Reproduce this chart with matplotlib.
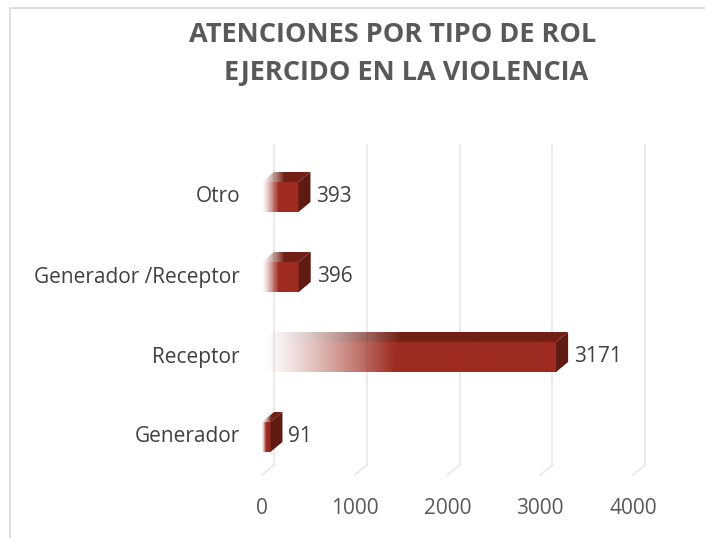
import numpy as np
import matplotlib
matplotlib.use("Agg")
import matplotlib.pyplot as plt
from matplotlib.patches import Polygon, Rectangle

categorias = ["Generador", "Receptor", "Generador /Receptor", "Otro"]
valores = [91, 3171, 396, 393]
ticks = [0, 1000, 2000, 3000, 4000]
titulo = ["ATENCIONES POR TIPO DE ROL", "EJERCIDO EN LA VIOLENCIA"]

plt.rcParams["font.family"] = ["Open Sans", "DejaVu Sans"]

W, H = 705, 538
fig = plt.figure(figsize=(W / 100, H / 100), dpi=100)

# ejes: x=0 en px 262, x=4000 en px 633; y de px 475 (abajo) a 145 (arriba)
x0, x1 = 262, 633
yb, yt = 475, 145
ax = fig.add_axes([x0 / W, 1 - yb / H, (x1 - x0) / W, (yb - yt) / H])
ax.axis("off")

px_x = 4000 / (x1 - x0)      # unidades por pixel en x
px_y = 4.125 / (yb - yt)     # unidades por pixel en y
dx = 12 * px_x               # profundidad 3D
dy = 10 * px_y
hh = 15 * px_y               # media altura de barra

# rejilla (plano de fondo + pie inclinado)
for t in ticks:
    ax.plot([t + dx, t + dx], [-0.475 + dy, 3.65], color="#E8E8E8", lw=1.2, clip_on=False, zorder=1)
    ax.plot([t, t + dx], [-0.475, -0.475 + dy], color="#E8E8E8", lw=1.2, clip_on=False, zorder=1)

roj = np.array([0x9E, 0x2B, 0x20]) / 255
top_c = np.array([0x72, 0x20, 0x16]) / 255
side_c = "#5F1A12"


def degradado(color, n=256):
    a = np.clip(np.linspace(0, 1, n) / 0.45, 0, 1)
    a = a ** 1.3
    img = np.zeros((1, n, 4))
    img[0, :, :3] = color
    img[0, :, 3] = a
    return img


for i, v in enumerate(valores):
    # cara frontal
    ax.imshow(degradado(roj), extent=[0, v, i - hh, i + hh], aspect="auto",
              interpolation="bilinear", zorder=3)
    # cara superior
    top = Polygon([[0, i + hh], [v, i + hh], [v + dx, i + hh + dy], [dx, i + hh + dy]],
                  closed=True, fc="none", ec="none")
    ax.add_patch(top)
    im2 = ax.imshow(degradado(top_c), extent=[0, v + dx, i + hh, i + hh + dy], aspect="auto",
                    interpolation="bilinear", zorder=3)
    im2.set_clip_path(top)
    # cara lateral
    ax.add_patch(Polygon([[v, i - hh], [v + dx, i - hh + dy], [v + dx, i + hh + dy], [v, i + hh]],
                         closed=True, fc=side_c, ec="none", zorder=3))
    ax.text(v + dx + 6 * px_x, i, str(v), ha="left", va="center", fontsize=15,
            color="#404040", zorder=4)
    ax.text(-22 * px_x, i, categorias[i], ha="right", va="center", fontsize=15,
            color="#404040")

for t in ticks:
    ax.text(t, -0.475 - 33 * px_y, str(t), ha="center", va="center", fontsize=15,
            color="#595959")

ax.set_xlim(0, 4000)
ax.set_ylim(-0.475, 3.65)

fig.text(393 / W, 1 - 35 / H, titulo[0], ha="center", va="center", fontsize=19.5,
         fontweight="bold", color="#595959")
fig.text(406 / W, 1 - 73 / H, titulo[1], ha="center", va="center", fontsize=19.5,
         fontweight="bold", color="#595959")

# borde del gráfico
fig.patches.append(Rectangle((10 / W, -0.1), 1.2, 1 - 8 / H + 0.1, transform=fig.transFigure,
                             fill=False, ec="#D9D9D9", lw=1.2))

fig.savefig("out.png", dpi=100)
